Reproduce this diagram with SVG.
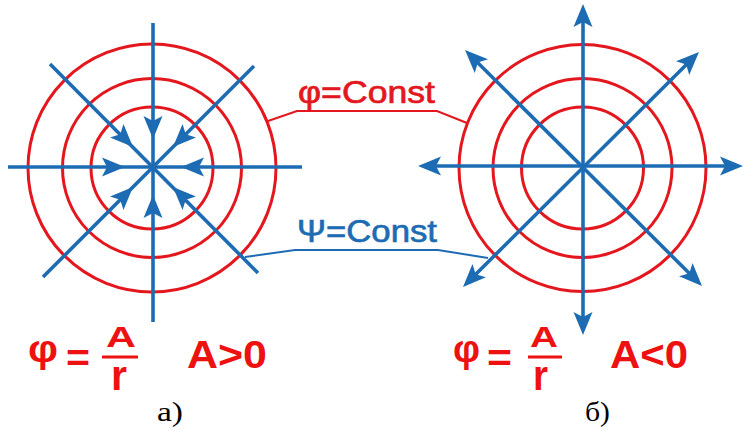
<svg xmlns="http://www.w3.org/2000/svg" xmlns:xlink="http://www.w3.org/1999/xlink" width="745" height="431" viewBox="0 0 745 431">
<style>
.ring{fill:none;stroke:#E3171D;stroke-width:3}
.ray{stroke:#1D6CB3;stroke-width:3.6;stroke-linecap:butt}
.ah{fill:#1D6CB3}
.lead-r{fill:none;stroke:#E3171D;stroke-width:2}
.lead-b{fill:none;stroke:#1D6CB3;stroke-width:2}
.lbl{font-family:"Liberation Sans","Open Sans",sans-serif;font-size:32px;stroke-width:0.7}
.frm{font-family:"Liberation Sans","Open Sans",sans-serif;font-weight:bold;fill:#EE1111}
.cap{font-family:"Liberation Serif","Times New Roman",serif;font-size:28px;fill:#000}
</style>
<defs>
<path id="ah" d="M0,0 L-23,-9.5 L-18,0 L-23,9.5 Z"/>
</defs>
<rect width="745" height="431" fill="#fff"/>

<g id="diagram-a">
<circle class="ring" cx="152" cy="168" r="124"/>
<circle class="ring" cx="152" cy="168" r="89.5"/>
<circle class="ring" cx="152" cy="168" r="61"/>
<line class="ray" x1="153" y1="23" x2="153" y2="322"/>
<line class="ray" x1="8" y1="167" x2="302" y2="167"/>
<line class="ray" x1="50" y1="64" x2="258" y2="273"/>
<line class="ray" x1="254" y1="66" x2="43" y2="277"/>
<g class="ah">
<use xlink:href="#ah" transform="translate(153,139) rotate(90)"/>
<use xlink:href="#ah" transform="translate(153,195) rotate(-90)"/>
<use xlink:href="#ah" transform="translate(125,167) rotate(0)"/>
<use xlink:href="#ah" transform="translate(181,167) rotate(180)"/>
<use xlink:href="#ah" transform="translate(133,147) rotate(45)"/>
<use xlink:href="#ah" transform="translate(173,147) rotate(135)"/>
<use xlink:href="#ah" transform="translate(133,187) rotate(-45)"/>
<use xlink:href="#ah" transform="translate(173,187) rotate(-135)"/>
</g>
</g>

<g id="diagram-b">
<circle class="ring" cx="582.5" cy="168" r="123.5"/>
<circle class="ring" cx="582.5" cy="168" r="89.5"/>
<circle class="ring" cx="582.5" cy="168" r="61"/>
<line class="ray" x1="583" y1="14" x2="583" y2="325"/>
<line class="ray" x1="428" y1="166" x2="733" y2="166"/>
<line class="ray" x1="472" y1="57" x2="695" y2="279"/>
<line class="ray" x1="692" y1="59" x2="470" y2="280"/>
<g class="ah">
<use xlink:href="#ah" transform="translate(583,4) rotate(-90)"/>
<use xlink:href="#ah" transform="translate(583,335) rotate(90)"/>
<use xlink:href="#ah" transform="translate(418,166) rotate(180)"/>
<use xlink:href="#ah" transform="translate(743,166) rotate(0)"/>
<use xlink:href="#ah" transform="translate(465,50) rotate(-135.5)"/>
<use xlink:href="#ah" transform="translate(699,52) rotate(-44.5)"/>
<use xlink:href="#ah" transform="translate(463,287) rotate(134.8)"/>
<use xlink:href="#ah" transform="translate(702,286) rotate(45.2)"/>
</g>
</g>

<g id="connectors">
<polyline class="lead-r" points="268,121 297,111 437,111 467,123"/>
<polyline class="lead-b" points="245,257 295,250 438,250 488,258"/>
</g>

<g id="label-phi">
<text class="lbl" x="298" y="103" fill="#E3171D" stroke="#E3171D" textLength="137" lengthAdjust="spacingAndGlyphs">φ=Const</text>
</g>
<g id="label-psi">
<text class="lbl" x="297" y="242" fill="#1D6CB3" stroke="#1D6CB3" textLength="140" lengthAdjust="spacingAndGlyphs">Ψ=Const</text>
</g>

<g id="formula-a">
<text class="frm" x="28" y="362" font-size="39" textLength="30" lengthAdjust="spacingAndGlyphs">φ</text>
<text class="frm" x="66" y="371" font-size="39" textLength="24" lengthAdjust="spacingAndGlyphs">=</text>
<text class="frm" x="106" y="347" font-size="29" textLength="30" lengthAdjust="spacingAndGlyphs">A</text>
<rect x="102" y="355.5" width="36" height="3" fill="#EE1111"/>
<text class="frm" x="111" y="390" font-size="42" textLength="16" lengthAdjust="spacingAndGlyphs">r</text>
<text class="frm" x="187" y="368" font-size="39" textLength="80" lengthAdjust="spacingAndGlyphs">A&gt;0</text>
</g>

<g id="formula-b">
<text class="frm" x="453" y="362" font-size="39" textLength="27" lengthAdjust="spacingAndGlyphs">φ</text>
<text class="frm" x="487" y="371" font-size="39" textLength="25" lengthAdjust="spacingAndGlyphs">=</text>
<text class="frm" x="530" y="347" font-size="29" textLength="28" lengthAdjust="spacingAndGlyphs">A</text>
<rect x="528" y="355.5" width="34" height="3" fill="#EE1111"/>
<text class="frm" x="533" y="390" font-size="42" textLength="15" lengthAdjust="spacingAndGlyphs">r</text>
<text class="frm" x="610" y="368" font-size="39" textLength="78" lengthAdjust="spacingAndGlyphs">A&lt;0</text>
</g>

<g id="caption-a">
<text class="cap" x="157" y="421" textLength="26" lengthAdjust="spacingAndGlyphs">а)</text>
</g>
<g id="caption-b">
<text class="cap" x="585" y="421" textLength="25" lengthAdjust="spacingAndGlyphs">б)</text>
</g>
</svg>
